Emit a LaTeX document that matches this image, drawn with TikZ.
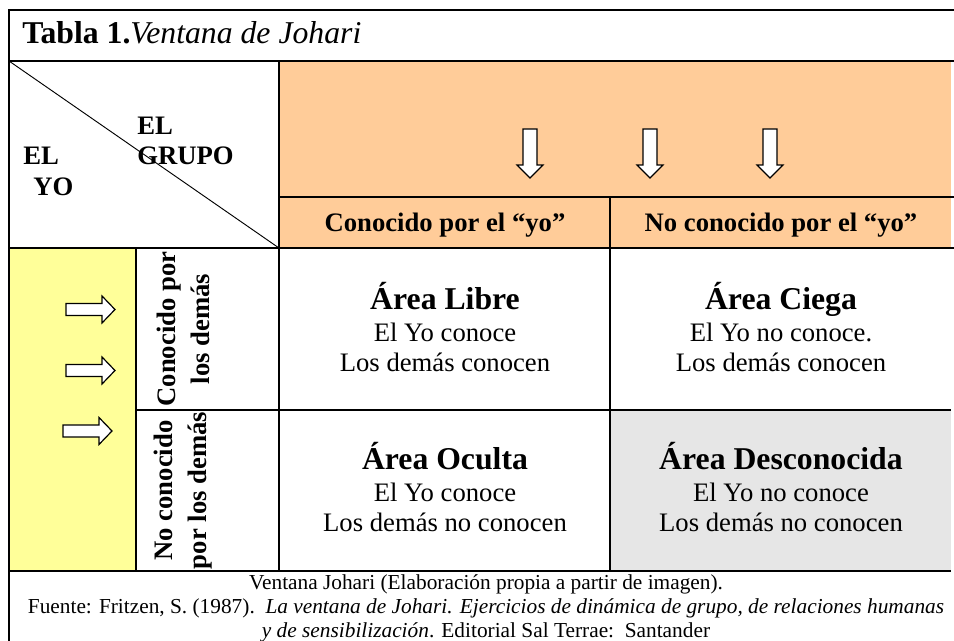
\documentclass[tikz,border=0pt]{standalone}
\usepackage{fontspec}
\setmainfont{Liberation Serif}
\usepackage{xcolor}
\usetikzlibrary{calc}

\definecolor{peach}{HTML}{FFCC99}
\definecolor{lemon}{HTML}{FFFF99}
\definecolor{mist}{HTML}{E6E6E6}

\newcommand{\titlefont}{\fontsize{23.8}{28}\selectfont}
\newcommand{\bodyfont}{\fontsize{20}{23.25}\selectfont}
\newcommand{\sidefont}{\fontsize{20}{25.5}\selectfont\bfseries}
\newcommand{\notefont}{\fontsize{16}{18}\selectfont}

\tikzset{
	rule/.style={line width=1.5pt},
	areahead/.style={font=\titlefont\bfseries,anchor=base,inner sep=0pt},
	areatext/.style={font=\bodyfont,anchor=base,inner sep=0pt},
	colhead/.style={font=\bodyfont\bfseries,anchor=base,inner sep=0pt},
	rowhead/.style={font=\sidefont,rotate=90,align=center,inner sep=0pt},
	hollow/.style={draw=black,fill=white,line width=0.9pt,line join=miter}
}

\begin{document}
\begin{tikzpicture}[x=0.75pt,y=-0.75pt]
	\useasboundingbox (0,0) rectangle (954,641);

	% fondos
	\fill[peach] (279,61) rectangle (951,248);
	\fill[lemon] (9,248) rectangle (136,571);
	\fill[mist] (610,410) rectangle (951,571);

	% lineas de la tabla
	\draw[rule] (954,10)--(9,10)--(9,641);
	\draw[rule] (9,61)--(954,61)
		(279,61)--(279,571)
		(279,197)--(954,197)
		(9,248)--(954,248)
		(610,197)--(610,571)
		(136,248)--(136,571)
		(136,410)--(951,410)
		(9,571)--(951,571);
	\draw[line width=0.7pt] (9,61)--(279,248);

	% titulo
	\node[anchor=base west,inner sep=0pt,font=\titlefont] (titulo) at (22,44)
		{\textbf{Tabla 1.}\textit{Ventana de Johari}};

	% esquina
	\node[font=\bodyfont\bfseries,anchor=base west,inner sep=0pt] (grupo1) at (137,135) {EL};
	\node[font=\bodyfont\bfseries,anchor=base west,inner sep=0pt] (grupo2) at (137,165) {GRUPO};
	\node[font=\bodyfont\bfseries,anchor=base west,inner sep=0pt] (yo1) at (23,165) {EL};
	\node[font=\bodyfont\bfseries,anchor=base west,inner sep=0pt] (yo2) at (33,196) {YO};

%	====================================================================
	\foreach \ax in {530,650,770}
		\draw[hollow] (\ax-7,129)--(\ax+7,129)--(\ax+7,165)--(\ax+13,165)
			--(\ax,178)--(\ax-13,165)--(\ax-7,165)--cycle;
	\foreach \ax/\ay in {66/309.5,66/370.5,63/431}
		\draw[hollow] (\ax,\ay-6)--(\ax+36,\ay-6)--(\ax+36,\ay-13.5)
			--(\ax+49,\ay)--(\ax+36,\ay+13.5)--(\ax+36,\ay+6)--(\ax,\ay+6)--cycle;
%	====================================================================

	% cabeceras
	\node[colhead] (conyo) at (445,232) {Conocido por el ``yo''};
	\node[colhead] (noyo) at (781,232) {No conocido por el ``yo''};
	\node[rowhead] (condem) at (183,329) {Conocido por\\los demás};
	\node[rowhead] (nodem) at (183,490.5) {No conocido\\por los demás};

	% cuadrantes
	\node[areahead] (libre) at (445,309.7) {Área Libre};
	\node[areatext] (libre1) at (445,341.3) {El Yo conoce};
	\node[areatext] (libre2) at (445,372) {Los demás conocen};

	\node[areahead] (ciega) at (781,309.7) {Área Ciega};
	\node[areatext] (ciega1) at (781,341.3) {El Yo no conoce.};
	\node[areatext] (ciega2) at (781,372) {Los demás conocen};

	\node[areahead] (oculta) at (445,470) {Área Oculta};
	\node[areatext] (oculta1) at (445,501.7) {El Yo conoce};
	\node[areatext] (oculta2) at (445,532) {Los demás no conocen};

	\node[areahead] (desc) at (781,470) {Área Desconocida};
	\node[areatext] (desc1) at (781,501.7) {El Yo no conoce};
	\node[areatext] (desc2) at (781,532) {Los demás no conocen};

	% fuente
	\node[font=\notefont,align=center,anchor=north,inner sep=0pt] (fuente) at (486,574)
		{Ventana Johari (Elaboración propia a partir de imagen).\\
		Fuente: Fritzen, S. (1987).\ \ \textit{La ventana de Johari. Ejercicios de dinámica de grupo, de relaciones humanas}\\
		\textit{y de sensibilización}. Editorial Sal Terrae:\ \ Santander};
\end{tikzpicture}
\end{document}
